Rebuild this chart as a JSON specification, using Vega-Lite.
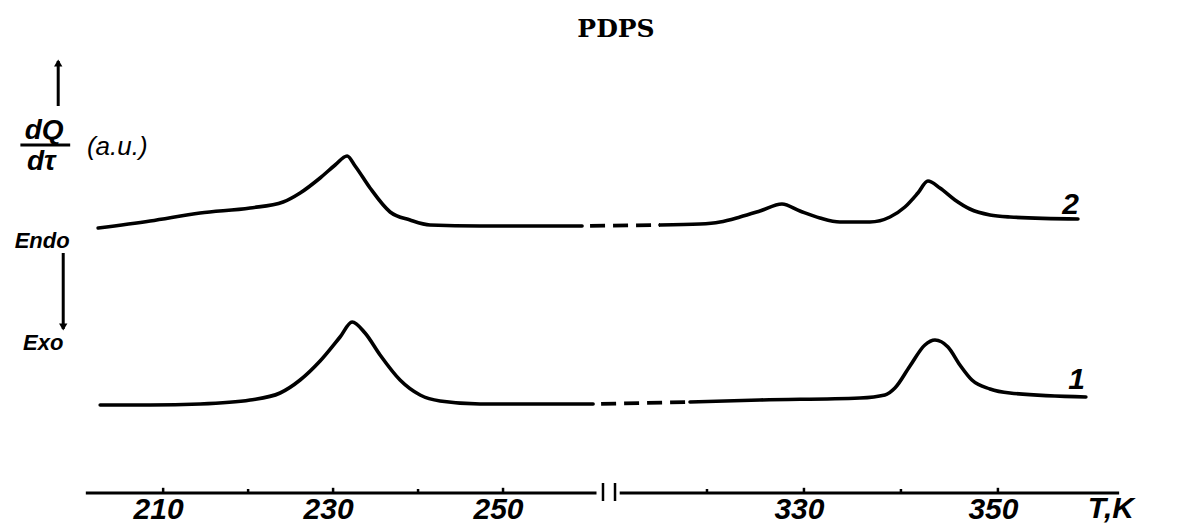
{
  "$schema": "https://vega.github.io/schema/vega-lite/v6.json",
  "width": 1188,
  "height": 443,
  "autosize": {"type": "none"},
  "padding": {"left": 0, "right": 0, "top": 50, "bottom": 31},
  "background": "white",
  "title": {"text": "PDPS", "font": "DejaVu Serif", "fontSize": 25, "fontWeight": "bold", "color": "black", "anchor": "middle", "dx": 22, "dy": 25, "offset": 13, "baseline": "alphabetic"},
  "config": {"view": {"stroke": null}},
  "datasets": {
    "curves": [
      {"curve": "2", "part": "2a", "style": "solid", "T": 202.35, "v": 6.625},
      {"curve": "2", "part": "2a", "style": "solid", "T": 208.47, "v": 6.8},
      {"curve": "2", "part": "2a", "style": "solid", "T": 214.35, "v": 7.0},
      {"curve": "2", "part": "2a", "style": "solid", "T": 220.24, "v": 7.125},
      {"curve": "2", "part": "2a", "style": "solid", "T": 224.12, "v": 7.275},
      {"curve": "2", "part": "2a", "style": "solid", "T": 226.12, "v": 7.5},
      {"curve": "2", "part": "2a", "style": "solid", "T": 228.47, "v": 7.875},
      {"curve": "2", "part": "2a", "style": "solid", "T": 230.24, "v": 8.2},
      {"curve": "2", "part": "2a", "style": "solid", "T": 231.65, "v": 8.425},
      {"curve": "2", "part": "2a", "style": "solid", "T": 232.59, "v": 8.175},
      {"curve": "2", "part": "2a", "style": "solid", "T": 234.35, "v": 7.625},
      {"curve": "2", "part": "2a", "style": "solid", "T": 236.71, "v": 7.025},
      {"curve": "2", "part": "2a", "style": "solid", "T": 239.06, "v": 6.825},
      {"curve": "2", "part": "2a", "style": "solid", "T": 241.41, "v": 6.7},
      {"curve": "2", "part": "2a", "style": "solid", "T": 247.29, "v": 6.675},
      {"curve": "2", "part": "2a", "style": "solid", "T": 253.18, "v": 6.675},
      {"curve": "2", "part": "2a", "style": "solid", "T": 259.3, "v": 6.675},
      {"curve": "2", "part": "2d", "style": "dashed", "T": 259.3, "v": 6.675},
      {"curve": "2", "part": "2d", "style": "dashed", "T": 315.15, "v": 6.7},
      {"curve": "2", "part": "2b", "style": "solid", "T": 315.15, "v": 6.7},
      {"curve": "2", "part": "2b", "style": "solid", "T": 319.28, "v": 6.725},
      {"curve": "2", "part": "2b", "style": "solid", "T": 321.34, "v": 6.775},
      {"curve": "2", "part": "2b", "style": "solid", "T": 323.4, "v": 6.9},
      {"curve": "2", "part": "2b", "style": "solid", "T": 325.46, "v": 7.05},
      {"curve": "2", "part": "2b", "style": "solid", "T": 327.73, "v": 7.225},
      {"curve": "2", "part": "2b", "style": "solid", "T": 329.59, "v": 7.05},
      {"curve": "2", "part": "2b", "style": "solid", "T": 331.65, "v": 6.875},
      {"curve": "2", "part": "2b", "style": "solid", "T": 333.71, "v": 6.775},
      {"curve": "2", "part": "2b", "style": "solid", "T": 336.8, "v": 6.775},
      {"curve": "2", "part": "2b", "style": "solid", "T": 338.87, "v": 6.9},
      {"curve": "2", "part": "2b", "style": "solid", "T": 340.41, "v": 7.15},
      {"curve": "2", "part": "2b", "style": "solid", "T": 341.75, "v": 7.5},
      {"curve": "2", "part": "2b", "style": "solid", "T": 342.78, "v": 7.8},
      {"curve": "2", "part": "2b", "style": "solid", "T": 344.02, "v": 7.625},
      {"curve": "2", "part": "2b", "style": "solid", "T": 345.57, "v": 7.325},
      {"curve": "2", "part": "2b", "style": "solid", "T": 347.11, "v": 7.1},
      {"curve": "2", "part": "2b", "style": "solid", "T": 349.18, "v": 6.95},
      {"curve": "2", "part": "2b", "style": "solid", "T": 351.24, "v": 6.9},
      {"curve": "2", "part": "2b", "style": "solid", "T": 358.25, "v": 6.85},
      {"curve": "1", "part": "1a", "style": "solid", "T": 202.59, "v": 2.2},
      {"curve": "1", "part": "1a", "style": "solid", "T": 208.47, "v": 2.2},
      {"curve": "1", "part": "1a", "style": "solid", "T": 214.35, "v": 2.225},
      {"curve": "1", "part": "1a", "style": "solid", "T": 220.24, "v": 2.325},
      {"curve": "1", "part": "1a", "style": "solid", "T": 223.76, "v": 2.5},
      {"curve": "1", "part": "1a", "style": "solid", "T": 226.12, "v": 2.825},
      {"curve": "1", "part": "1a", "style": "solid", "T": 228.47, "v": 3.3},
      {"curve": "1", "part": "1a", "style": "solid", "T": 230.82, "v": 3.9},
      {"curve": "1", "part": "1a", "style": "solid", "T": 232.24, "v": 4.275},
      {"curve": "1", "part": "1a", "style": "solid", "T": 233.76, "v": 4.0},
      {"curve": "1", "part": "1a", "style": "solid", "T": 235.53, "v": 3.45},
      {"curve": "1", "part": "1a", "style": "solid", "T": 237.88, "v": 2.825},
      {"curve": "1", "part": "1a", "style": "solid", "T": 240.24, "v": 2.45},
      {"curve": "1", "part": "1a", "style": "solid", "T": 242.59, "v": 2.3},
      {"curve": "1", "part": "1a", "style": "solid", "T": 247.29, "v": 2.225},
      {"curve": "1", "part": "1a", "style": "solid", "T": 253.18, "v": 2.225},
      {"curve": "1", "part": "1a", "style": "solid", "T": 260.6, "v": 2.225},
      {"curve": "1", "part": "1d", "style": "dashed", "T": 260.6, "v": 2.225},
      {"curve": "1", "part": "1d", "style": "dashed", "T": 318.25, "v": 2.275},
      {"curve": "1", "part": "1b", "style": "solid", "T": 318.25, "v": 2.275},
      {"curve": "1", "part": "1b", "style": "solid", "T": 325.46, "v": 2.325},
      {"curve": "1", "part": "1b", "style": "solid", "T": 335.77, "v": 2.375},
      {"curve": "1", "part": "1b", "style": "solid", "T": 338.35, "v": 2.45},
      {"curve": "1", "part": "1b", "style": "solid", "T": 339.38, "v": 2.625},
      {"curve": "1", "part": "1b", "style": "solid", "T": 340.93, "v": 3.175},
      {"curve": "1", "part": "1b", "style": "solid", "T": 342.47, "v": 3.7},
      {"curve": "1", "part": "1b", "style": "solid", "T": 343.51, "v": 3.825},
      {"curve": "1", "part": "1b", "style": "solid", "T": 344.85, "v": 3.65},
      {"curve": "1", "part": "1b", "style": "solid", "T": 346.08, "v": 3.2},
      {"curve": "1", "part": "1b", "style": "solid", "T": 347.32, "v": 2.825},
      {"curve": "1", "part": "1b", "style": "solid", "T": 349.18, "v": 2.6},
      {"curve": "1", "part": "1b", "style": "solid", "T": 351.24, "v": 2.5},
      {"curve": "1", "part": "1b", "style": "solid", "T": 359.07, "v": 2.4}
    ],
    "axisline": [
      {"T": 200.9, "T2": 261, "v": 0},
      {"T": 311, "T2": 362.5, "v": 0}
    ],
    "ticks": [
      {"T": 210, "v": 0, "v2": 0.13},
      {"T": 220, "v": 0, "v2": 0.1},
      {"T": 230, "v": 0, "v2": 0.13},
      {"T": 240, "v": 0, "v2": 0.1},
      {"T": 250, "v": 0, "v2": 0.13},
      {"T": 320, "v": 0, "v2": 0.1},
      {"T": 330, "v": 0, "v2": 0.13},
      {"T": 340, "v": 0, "v2": 0.1},
      {"T": 350, "v": 0, "v2": 0.13}
    ],
    "breaks": [
      {"T": 275, "v": -0.2, "v2": 0.25},
      {"T": 300.9, "v": -0.2, "v2": 0.25}
    ],
    "annrules": [
      {"T": 197.65, "T2": 197.65, "v": 9.675, "v2": 10.8},
      {"T": 198.24, "T2": 198.24, "v": 4.1, "v2": 6.0},
      {"T": 193.2, "T2": 199.06, "v": 8.7, "v2": 8.7}
    ],
    "heads": [
      {"T": 197.65, "v": 10.75, "dir": "up"},
      {"T": 198.24, "v": 4.15, "dir": "down"}
    ],
    "texts": [
      {"kind": "frac", "label": "dQ", "T": 196.0, "v": 9.05},
      {"kind": "frac", "label": "dτ", "T": 195.65, "v": 8.275},
      {"kind": "unit", "label": "(a.u.)", "T": 204.6, "v": 8.65},
      {"kind": "side", "label": "Endo", "T": 195.76, "v": 6.3},
      {"kind": "side", "label": "Exo", "T": 195.88, "v": 3.75},
      {"kind": "curve", "label": "2", "T": 357.5, "v": 7.2},
      {"kind": "curve", "label": "1", "T": 358.1, "v": 2.825},
      {"kind": "axis", "label": "T,K", "T": 361.65, "v": -0.4}
    ]
  },
  "encoding": {
    "x": {
      "field": "T", "type": "quantitative",
      "scale": {"domain": [190.8, 261, 311, 369.6], "range": [0, 596.5, 619.7, 1188], "nice": false, "zero": false},
      "axis": {"values": [210, 230, 250, 330, 350], "domain": false, "ticks": false, "grid": false, "title": null, "labelFont": "Liberation Sans", "labelFontSize": 30, "labelFontStyle": "italic", "labelFontWeight": "bold", "labelColor": "black", "labelPadding": 1, "labelOffset": -5}
    },
    "y": {
      "field": "v", "type": "quantitative",
      "scale": {"domain": [0, 11.075], "nice": false, "zero": false},
      "axis": null
    }
  },
  "layer": [
    {
      "data": {"name": "curves"},
      "transform": [{"filter": "datum.style === 'solid'"}],
      "mark": {"type": "line", "color": "black", "strokeWidth": 3.6, "interpolate": "monotone", "strokeCap": "round", "strokeJoin": "round"},
      "encoding": {"detail": {"field": "part", "type": "nominal"}}
    },
    {
      "data": {"name": "curves"},
      "transform": [{"filter": "datum.style === 'dashed'"}],
      "mark": {"type": "line", "color": "black", "strokeWidth": 3.8, "strokeDash": [15, 8], "strokeDashOffset": 15, "strokeCap": "butt"},
      "encoding": {"detail": {"field": "part", "type": "nominal"}}
    },
    {
      "data": {"name": "axisline"},
      "mark": {"type": "rule", "color": "black", "strokeWidth": 3},
      "encoding": {"x2": {"field": "T2"}}
    },
    {
      "data": {"name": "ticks"},
      "mark": {"type": "rule", "color": "black", "strokeWidth": 2.5},
      "encoding": {"y2": {"field": "v2"}}
    },
    {
      "data": {"name": "breaks"},
      "mark": {"type": "rule", "color": "black", "strokeWidth": 2.5},
      "encoding": {"y2": {"field": "v2"}}
    },
    {
      "data": {"name": "annrules"},
      "mark": {"type": "rule", "color": "black", "strokeWidth": 3},
      "encoding": {"x2": {"field": "T2"}, "y2": {"field": "v2"}}
    },
    {
      "data": {"name": "heads"},
      "mark": {"type": "point", "filled": true, "color": "black", "size": 70, "opacity": 1},
      "encoding": {"shape": {"field": "dir", "type": "nominal", "scale": {"domain": ["up", "down"], "range": ["triangle-up", "triangle-down"]}, "legend": null}}
    },
    {
      "data": {"name": "texts"},
      "transform": [{"filter": "datum.kind === 'frac'"}],
      "mark": {"type": "text", "font": "Liberation Sans", "fontSize": 28, "fontStyle": "italic", "fontWeight": "bold", "color": "black", "align": "center", "baseline": "middle"},
      "encoding": {"text": {"field": "label"}}
    },
    {
      "data": {"name": "texts"},
      "transform": [{"filter": "datum.kind === 'unit'"}],
      "mark": {"type": "text", "font": "Liberation Sans", "fontSize": 26, "fontStyle": "italic", "color": "black", "align": "center", "baseline": "middle"},
      "encoding": {"text": {"field": "label"}}
    },
    {
      "data": {"name": "texts"},
      "transform": [{"filter": "datum.kind === 'side'"}],
      "mark": {"type": "text", "font": "Liberation Sans", "fontSize": 22, "fontStyle": "italic", "fontWeight": "bold", "color": "black", "align": "center", "baseline": "middle"},
      "encoding": {"text": {"field": "label"}}
    },
    {
      "data": {"name": "texts"},
      "transform": [{"filter": "datum.kind === 'curve' || datum.kind === 'axis'"}],
      "mark": {"type": "text", "font": "Liberation Sans", "fontSize": 30, "fontStyle": "italic", "fontWeight": "bold", "color": "black", "align": "center", "baseline": "middle"},
      "encoding": {"text": {"field": "label"}}
    }
  ]
}
